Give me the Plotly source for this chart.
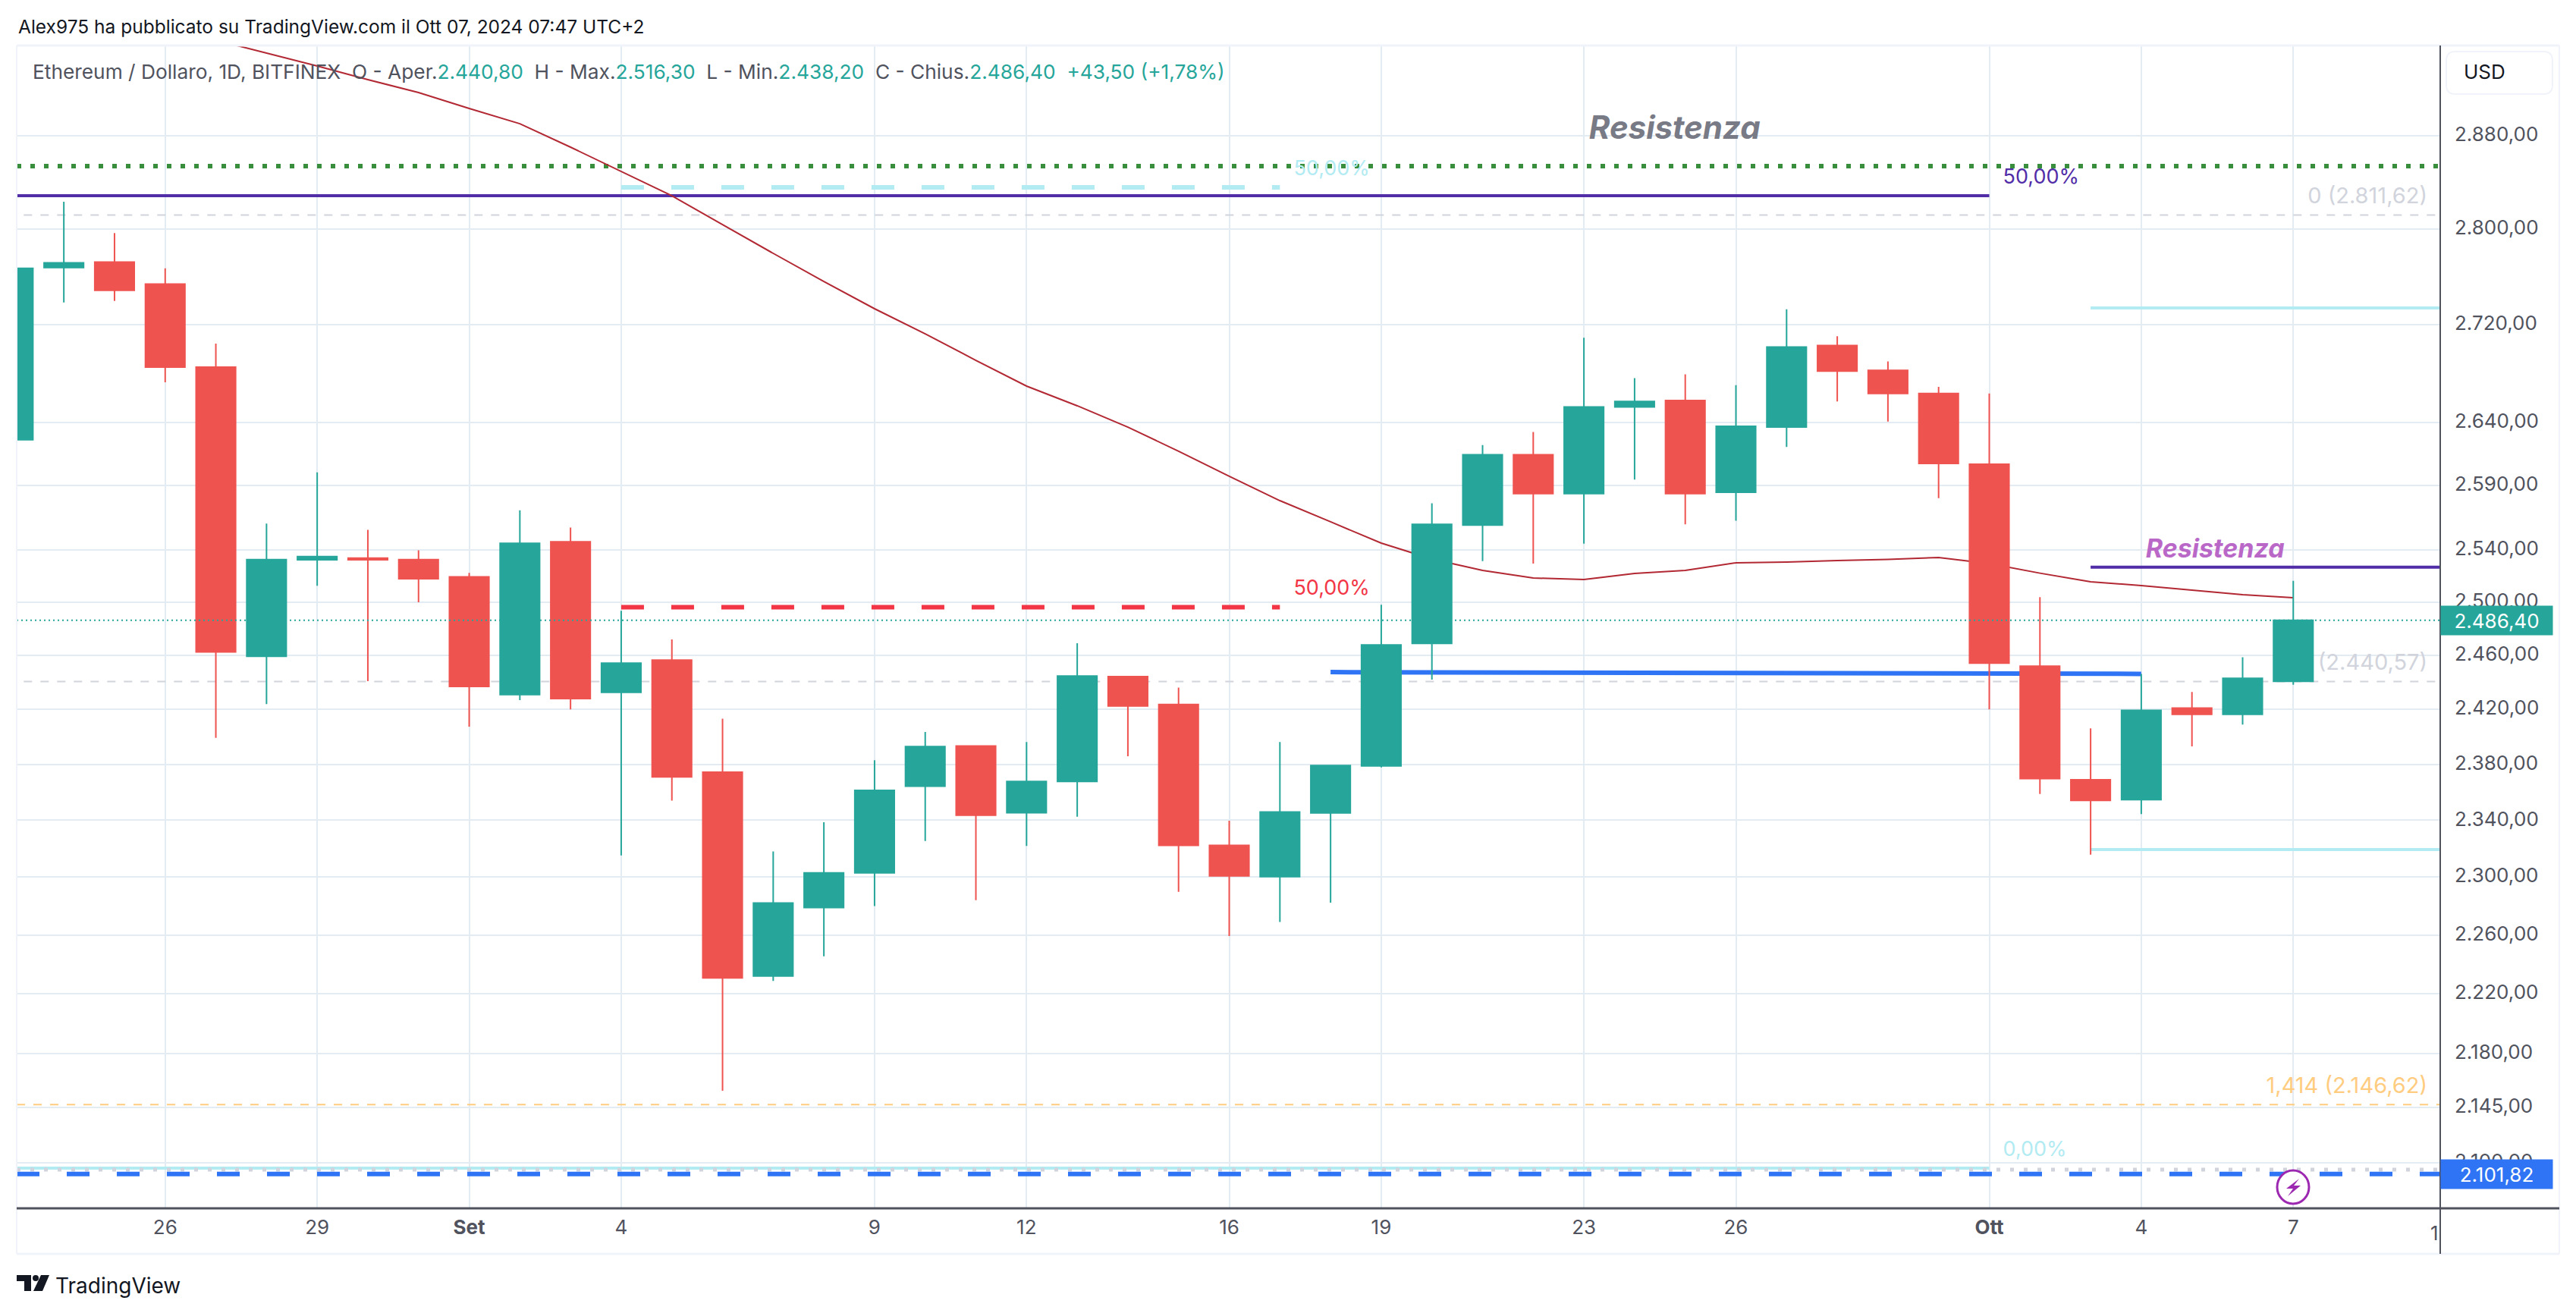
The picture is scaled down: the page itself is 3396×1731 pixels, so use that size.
"""Ethereum / Dollaro, 1D, BITFINEX: candele giornaliere con livelli disegnati."""

import math

import pandas as pd
import plotly.graph_objects as go

FONT = "Inter, Roboto, sans-serif"
UP = "#26a69a"
DOWN = "#ef5350"
GRID = "#e3ecf2"
AXIS = "#50535e"
FRAME = "#f0f3fa"
CYAN = "#b2ebf2"
PURPLE = "#512da8"
BLUE = "#2f74f5"
GREY = "#d1d4dc"
RED = "#f23645"
ORANGE = "#ffcc80"

dates = pd.date_range("2024-08-23", periods=46, freq="D")

opens = [2626.4, 2767.3, 2771.8, 2753.4, 2684.9, 2459.4, 2532.4, 2533.8, 2532.6, 2519.4,
         2430.9, 2546.3, 2432.6, 2456.5, 2374.4, 2232.0, 2278.8, 2303.0, 2364.3, 2393.4,
         2345.3, 2367.7, 2444.2, 2423.7, 2322.3, 2300.3, 2345.2, 2378.9, 2469.0, 2559.3,
         2614.4, 2583.8, 2652.7, 2657.8, 2584.9, 2636.6, 2702.5, 2682.2, 2663.5, 2607.0,
         2452.0, 2368.9, 2354.7, 2421.1, 2416.5, 2440.8]
highs = [2772.0, 2823.0, 2796.4, 2766.6, 2704.2, 2560.4, 2600.5, 2555.6, 2539.7, 2522.4,
         2570.8, 2557.4, 2493.5, 2472.0, 2413.3, 2318.0, 2338.6, 2383.0, 2403.5, 2393.6,
         2396.2, 2469.1, 2444.7, 2436.1, 2339.7, 2396.2, 2379.8, 2498.2, 2576.3, 2622.1,
         2632.6, 2708.9, 2675.9, 2679.0, 2670.2, 2732.5, 2710.2, 2689.5, 2668.9, 2663.5,
         2503.9, 2406.2, 2446.2, 2432.9, 2458.7, 2516.3]
lows = [2618.0, 2738.1, 2739.4, 2672.6, 2399.3, 2424.0, 2512.6, 2440.9, 2500.0, 2407.4,
        2426.9, 2420.0, 2315.2, 2354.0, 2155.6, 2228.6, 2245.4, 2279.9, 2325.3, 2283.9,
        2321.8, 2342.5, 2385.9, 2289.8, 2259.2, 2268.9, 2282.3, 2377.8, 2442.0, 2531.4,
        2529.6, 2544.8, 2594.9, 2559.9, 2562.6, 2620.6, 2657.1, 2640.9, 2580.2, 2420.0,
        2358.7, 2315.7, 2344.4, 2393.0, 2409.0, 2438.2]
closes = [2766.6, 2771.2, 2748.2, 2684.9, 2462.6, 2532.6, 2535.0, 2532.4, 2517.9, 2436.9,
          2545.1, 2428.0, 2454.3, 2371.0, 2230.7, 2282.0, 2303.0, 2361.3, 2392.9, 2343.6,
          2367.7, 2444.7, 2422.6, 2322.3, 2300.8, 2345.9, 2379.2, 2467.9, 2559.9, 2614.4,
          2583.8, 2652.7, 2657.1, 2583.8, 2637.2, 2701.3, 2681.6, 2663.5, 2607.6, 2454.3,
          2369.7, 2354.2, 2419.4, 2416.5, 2443.0, 2486.4]

# la media mobile parte dal 27 agosto, prima e' fuori dal grafico
ma_dates = dates[4:]
ma_values = [2964.9, 2953.3, 2941.8, 2929.6, 2918.2, 2904.1, 2890.7, 2870.2, 2849.1, 2828.2,
             2803.6, 2779.2, 2755.6, 2732.9, 2712.2, 2690.4, 2669.5, 2653.6, 2636.5, 2617.2,
             2597.4, 2578.3, 2561.8, 2545.3, 2533.0, 2524.3, 2518.5, 2517.3, 2522.0, 2524.3,
             2530.1, 2530.7, 2531.9, 2532.7, 2534.2, 2529.5, 2522.2, 2515.6, 2512.7, 2509.2,
             2505.8, 2503.5]

x_tick_dates = ["2024-08-26", "2024-08-29", "2024-09-01", "2024-09-04", "2024-09-09",
                "2024-09-12", "2024-09-16", "2024-09-19", "2024-09-23", "2024-09-26",
                "2024-10-01", "2024-10-04", "2024-10-07"]
x_tick_labels = ["26", "29", "<b>Set</b>", "4", "9", "12", "16", "19", "23", "26",
                 "<b>Ott</b>", "4", "7"]
y_tick_values = [2880, 2800, 2720, 2640, 2590, 2540, 2500, 2460, 2420, 2380, 2340, 2300,
                 2260, 2220, 2180, 2145, 2109]
y_tick_labels = ["2.880,00", "2.800,00", "2.720,00", "2.640,00", "2.590,00", "2.540,00",
                 "2.500,00", "2.460,00", "2.420,00", "2.380,00", "2.340,00", "2.300,00",
                 "2.260,00", "2.220,00", "2.180,00", "2.145,00", "2.100,00"]

X_START = "2024-08-23 01:40"
X_END = "2024-10-09 21:36"
Y_BOTTOM = 2080.1
Y_TOP = 2960.1

LAST_PRICE = 2486.40
BLUE_PRICE = 2101.82
FIB_0 = 2811.62
FIB_1 = 2440.57
FIB_1414 = 2146.62
GREEN_LEVEL = 2853.8
PURPLE_LEVEL = 2828.2
CYAN_50_LEVEL = 2835.4
RED_50_LEVEL = 2496.3
CYAN_0_LEVEL = 2105.6
GREY_DOT_LEVEL = 2104.6
RES_LEVEL = 2526.8
BOX_TOP_LEVEL = 2733.5
BOX_LOW_LEVEL = 2319.3
BLUE_TREND = [2447.6, 2446.3]

# spazio tra il livello e la sua etichetta, sulla scala logaritmica
LABEL_LIFT = 1.0053

W, H = 3396, 1731
LEFT, RIGHT, TOP, BOTTOM = 22, 3217, 60, 1593
# il body della pagina ha 8px di margine
PAGE_PAD = 8


def px_x(x):
    return (x - LEFT) / (RIGHT - LEFT)


def px_y(y):
    return 1 - (y - TOP) / (BOTTOM - TOP)


def level(fig, x0, x1, y0, color, width, dash="solid", y1=None, above=False):
    fig.add_trace(
        go.Scatter(
            x=[x0, x1],
            y=[y0, y0 if y1 is None else y1],
            mode="lines",
            line=dict(color=color, width=width, dash=dash),
            hoverinfo="skip",
            showlegend=False,
            xaxis="x2" if above else "x",
            yaxis="y2" if above else "y",
        )
    )


def label(fig, x, y, text, color, size=27, pos="middle left", above=False):
    fig.add_trace(
        go.Scatter(
            x=[x],
            y=[y],
            mode="text",
            text=[text],
            textposition=pos,
            textfont=dict(family=FONT, size=size, color=color),
            hoverinfo="skip",
            showlegend=False,
            xaxis="x2" if above else "x",
            yaxis="y2" if above else "y",
        )
    )


fig = go.Figure()

# tutto cio' che sta sotto alle candele resta sugli assi x/y,
# plotly disegna sempre gli scatter sopra i candlestick dello stesso subplot
level(fig, X_START, X_END, GREEN_LEVEL, "#388e3c", 6, "6px,12px")
level(fig, "2024-09-04", "2024-09-17", CYAN_50_LEVEL, CYAN, 6, "30px,36px")
level(fig, X_START, "2024-10-01", PURPLE_LEVEL, PURPLE, 4)
level(fig, "2024-08-23 05:00", "2024-10-09 19:40", FIB_0, GREY, 2, "11px,11px")
level(fig, "2024-08-23 05:00", "2024-10-09 19:40", FIB_1, GREY, 2, "11px,11px")
level(fig, X_START, X_END, FIB_1414, ORANGE, 2, "11px,11px")
level(fig, "2024-09-04", "2024-09-17", RED_50_LEVEL, RED, 6, "30px,36px")
level(fig, X_START, "2024-10-01", CYAN_0_LEVEL, CYAN, 4)
level(fig, X_START, X_END, GREY_DOT_LEVEL, GREY, 5, "5px,13px")
level(fig, X_START, X_END, BLUE_PRICE, BLUE, 6, "30px,36px")
level(fig, "2024-09-18", "2024-10-04", BLUE_TREND[0], BLUE, 6, y1=BLUE_TREND[1])
level(fig, "2024-10-03", X_END, RES_LEVEL, PURPLE, 4)
level(fig, "2024-10-03", X_END, BOX_TOP_LEVEL, CYAN, 4)
level(fig, "2024-10-03", X_END, BOX_LOW_LEVEL, CYAN, 4)

label(fig, "2024-10-09 15:30", FIB_0 * LABEL_LIFT, "0 (2.811,62)", GREY, size=29)
label(fig, "2024-10-09 15:30", FIB_1 * LABEL_LIFT, "1 (2.440,57)", GREY, size=29)
label(fig, "2024-10-09 15:30", FIB_1414 * LABEL_LIFT, "1,414 (2.146,62)", ORANGE, size=29)
label(fig, "2024-10-01 06:30", PURPLE_LEVEL * LABEL_LIFT, "50,00%", PURPLE, pos="middle right")
label(fig, "2024-10-01 06:30", CYAN_0_LEVEL * LABEL_LIFT, "0,00%", CYAN, pos="middle right")
label(fig, "2024-09-17 06:30", CYAN_50_LEVEL * LABEL_LIFT, "50,00%", CYAN, pos="middle right")
label(fig, "2024-09-17 06:30", RED_50_LEVEL * LABEL_LIFT, "50,00%", RED, pos="middle right")

fig.add_trace(
    go.Scatter(
        x=ma_dates,
        y=ma_values,
        mode="lines",
        line=dict(color="#b22833", width=2),
        hoverinfo="skip",
        showlegend=False,
    )
)

fig.add_trace(
    go.Candlestick(
        x=dates,
        open=opens,
        high=highs,
        low=lows,
        close=closes,
        increasing=dict(line=dict(color=UP, width=2), fillcolor=UP),
        decreasing=dict(line=dict(color=DOWN, width=2), fillcolor=DOWN),
        whiskerwidth=0,
        hoverinfo="skip",
        showlegend=False,
        xaxis="x2",
        yaxis="y2",
    )
)

# linea dell'ultimo prezzo e testi sopra alle candele
level(fig, X_START, X_END, LAST_PRICE, UP, 2, "2px,4px", above=True)
label(fig, "2024-09-24 19:00", 2884.2, "<b><i>Resistenza</i></b>", "#787b86", size=42,
      pos="middle center", above=True)
label(fig, "2024-10-05 11:00", 2539.4, "<b><i>Resistenza</i></b>", "#ba68c8", size=34,
      pos="middle center", above=True)


def value(text):
    return f'<span style="color:{UP}">{text}</span>'


legend_text = (
    "Ethereum / Dollaro, 1D, BITFINEX  O - Aper." + value("2.440,80")
    + "  H - Max." + value("2.516,30")
    + "  L - Min." + value("2.438,20")
    + "  C - Chius." + value("2.486,40")
    + "  " + value("+43,50 (+1,78%)")
)

notes = [
    dict(x=px_x(22), y=px_y(35), text="Alex975 ha pubblicato su TradingView.com il Ott 07, 2024 07:47 UTC+2",
         font=dict(family=FONT, size=24.5, color="#131722"), xanchor="left"),
    dict(x=px_x(41), y=px_y(95), text=legend_text,
         font=dict(family=FONT, size=26.3, color="#50535e"), xanchor="left"),
    dict(x=px_x(3246), y=px_y(95), text="USD",
         font=dict(family=FONT, size=26, color="#131722"), xanchor="left"),
    dict(x=px_x(71), y=px_y(1695), text="TradingView",
         font=dict(family=FONT, size=28, color="#131722"), xanchor="left"),
    dict(x=px_x(RIGHT), y=px_y(1625), text="1",
         font=dict(family=FONT, size=26, color=AXIS), xanchor="right"),
    dict(x=px_x(RIGHT), y=math.log10(LAST_PRICE), yref="y", text="2.486,40", bgcolor=UP,
         font=dict(family=FONT, size=26, color="white"), xanchor="left", width=147, height=38, borderpad=0),
    dict(x=px_x(RIGHT), y=math.log10(BLUE_PRICE), yref="y", text="2.101,82", bgcolor=BLUE,
         font=dict(family=FONT, size=26, color="white"), xanchor="left", width=147, height=38, borderpad=0),
]
for note in notes:
    note.setdefault("yref", "paper")
    note.update(xref="paper", showarrow=False, yanchor="middle")


def paper_line(x0, y0, x1, y1, color, width):
    return dict(type="line", xref="paper", yref="paper", x0=px_x(x0), y0=px_y(y0),
                x1=px_x(x1), y1=px_y(y1), line=dict(color=color, width=width))


def paper_path(points, color):
    path = "M" + " L".join(f"{px_x(x)},{px_y(y)}" for x, y in points) + " Z"
    return dict(type="path", xref="paper", yref="paper", path=path, fillcolor=color,
                line=dict(width=0))


def rounded_box(x0, y0, x1, y1, r):
    path = (
        f"M{px_x(x0 + r)},{px_y(y0)} L{px_x(x1 - r)},{px_y(y0)} "
        f"Q{px_x(x1)},{px_y(y0)} {px_x(x1)},{px_y(y0 + r)} L{px_x(x1)},{px_y(y1 - r)} "
        f"Q{px_x(x1)},{px_y(y1)} {px_x(x1 - r)},{px_y(y1)} L{px_x(x0 + r)},{px_y(y1)} "
        f"Q{px_x(x0)},{px_y(y1)} {px_x(x0)},{px_y(y1 - r)} L{px_x(x0)},{px_y(y0 + r)} "
        f"Q{px_x(x0)},{px_y(y0)} {px_x(x0 + r)},{px_y(y0)} Z"
    )
    return dict(type="path", xref="paper", yref="paper", path=path, fillcolor="white",
                line=dict(color=FRAME, width=2))


shapes = [
    paper_line(22, 60, 3374, 60, FRAME, 3),
    paper_line(22, 60, 22, 1653, FRAME, 2),
    paper_line(3374, 60, 3374, 1653, FRAME, 2),
    paper_line(22, 1653, 3374, 1653, FRAME, 3),
    paper_line(RIGHT, 60, RIGHT, 1653, AXIS, 2),
    paper_line(22, BOTTOM, 3374, BOTTOM, AXIS, 3),
    rounded_box(3225, 68, 3365, 124, 12),
    # icona con il fulmine sull'ultima candela
    dict(type="circle", xref="paper", yref="paper", x0=px_x(3002), y0=px_y(1543), x1=px_x(3044),
         y1=px_y(1587), fillcolor="white", line=dict(color="#9c27b0", width=3)),
    paper_path([(3031, 1554), (3014, 1567), (3023, 1567), (3016, 1577), (3033, 1563), (3024, 1563)], "#9c27b0"),
    # logo
    paper_path([(22, 1681), (41, 1681), (41, 1702), (32, 1702), (32, 1689), (22, 1689)], "#131722"),
    paper_path([(54, 1681), (65, 1681), (56, 1702), (44, 1702)], "#131722"),
    dict(type="circle", xref="paper", yref="paper", x0=px_x(43), y0=px_y(1681), x1=px_x(51),
         y1=px_y(1689), fillcolor="#131722", line=dict(width=0)),
]

fig_w = W - 2 * PAGE_PAD
fig_h = H - 2 * PAGE_PAD
y_range = [math.log10(Y_BOTTOM), math.log10(Y_TOP)]

fig.update_layout(
    width=fig_w,
    height=fig_h,
    margin=dict(
        l=LEFT - PAGE_PAD,
        r=fig_w - (RIGHT - PAGE_PAD),
        t=TOP - PAGE_PAD,
        b=fig_h - (BOTTOM - PAGE_PAD),
        pad=0,
    ),
    paper_bgcolor="white",
    plot_bgcolor="white",
    showlegend=False,
    boxgap=0.22,
    boxgroupgap=0,
    annotations=notes,
    shapes=shapes,
    font=dict(family=FONT, size=26, color=AXIS),
    xaxis=dict(
        type="date",
        range=[X_START, X_END],
        tickmode="array",
        tickvals=x_tick_dates,
        ticktext=x_tick_labels,
        tickangle=0,
        ticks="",
        ticklabelstandoff=7,
        showgrid=True,
        gridcolor=GRID,
        gridwidth=2,
        rangeslider=dict(visible=False),
        showline=False,
        zeroline=False,
    ),
    yaxis=dict(
        type="log",
        side="right",
        range=y_range,
        tickmode="array",
        tickvals=y_tick_values,
        ticktext=y_tick_labels,
        ticks="",
        ticklabelstandoff=18,
        ticklabelshift=-2,
        showgrid=True,
        gridcolor=GRID,
        gridwidth=2,
        showline=False,
        zeroline=False,
    ),
    # stessi intervalli di x/y: servono solo a portare le candele sopra le linee
    xaxis2=dict(
        type="date",
        range=[X_START, X_END],
        overlaying="x",
        visible=False,
        rangeslider=dict(visible=False),
    ),
    yaxis2=dict(type="log", range=y_range, overlaying="y", side="right", visible=False),
)

fig.write_html("out.html")
